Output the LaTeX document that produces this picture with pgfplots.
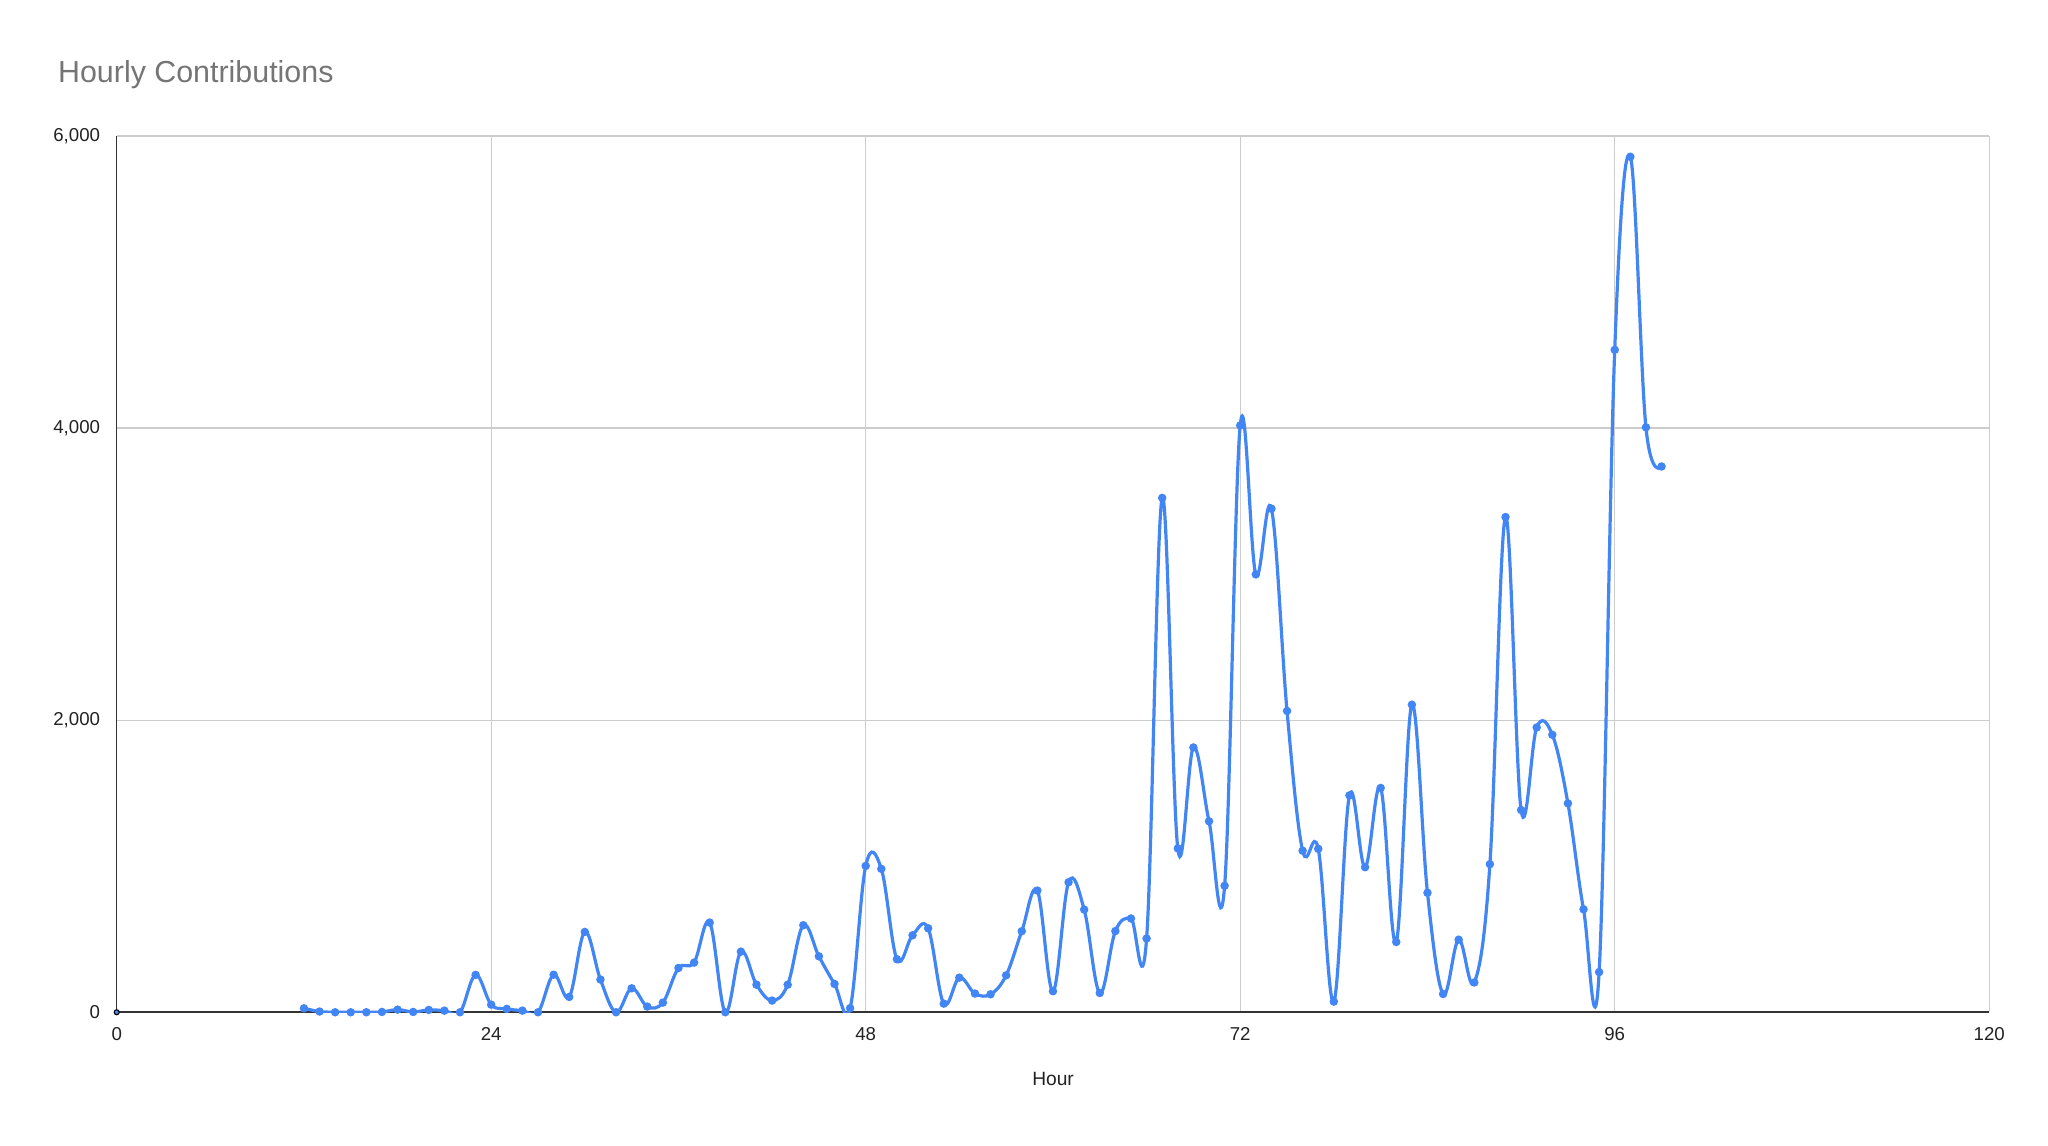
\documentclass[border=0pt]{standalone}
\usepackage{fontspec}
\setmainfont{Liberation Sans}
\usepackage{pgfplots}
\usepackage{pgfplotstable}
\pgfplotsset{compat=1.18}
\definecolor{gblue}{HTML}{4285F4}
\definecolor{gridgray}{HTML}{CCCCCC}
\definecolor{axisgray}{HTML}{333333}
\definecolor{labelcol}{HTML}{222222}
\definecolor{titlecol}{HTML}{757575}
\pgfplotstableread{
h v
12 27
13 5
14 0
15 0
16 0
17 2
18 18
19 2
20 16
21 11
22 0
23 256
24 52
25 23
26 11
27 0
28 257
29 105
30 550
31 224
32 0
33 164
34 39
35 66
36 303
37 340
38 614
39 0
40 415
41 189
42 80
43 189
44 596
45 383
46 194
47 28
48 1002
49 982
50 363
51 527
52 575
53 59
54 237
55 128
56 123
57 253
58 555
59 833
60 144
61 890
62 703
63 132
64 556
65 642
66 505
67 3522
68 1122
69 1813
70 1308
71 866
72 4018
73 2998
74 3448
75 2063
76 1106
77 1119
78 73
79 1485
80 993
81 1536
82 481
83 2106
84 818
85 125
86 497
87 204
88 1014
89 3391
90 1385
91 1950
92 1900
93 1430
94 705
95 275
96 4536
97 5858
98 4005
99 3737
}\hourly
\begin{document}
\begin{tikzpicture}
\path[use as bounding box] (0,0) rectangle (768pt,429.75pt);
\begin{axis}[
  at={(43.76pt,50.15pt)}, anchor=south west,
  scale only axis, width=702.2pt, height=328.6pt,
  xmin=0, xmax=120, ymin=0, ymax=6000,
  xtick={0,24,48,72,96,120}, ytick={0,2000,4000,6000},
  grid=major, grid style={draw=gridgray, line width=0.45pt},
  axis x line*=bottom, axis y line*=left,
  axis line style={draw=axisgray, line width=0.6pt, -},
  major tick length=0pt,
  tick label style={font=\fontsize{7}{8}\selectfont, text=labelcol},
  xticklabel style={yshift=-2pt},
  yticklabel style={xshift=-2.7pt},
  scaled y ticks=false,
  /pgf/number format/.cd, 1000 sep={,}, assume math mode=true,
]
\addplot[gblue, line width=1.2pt, smooth, tension=0.62, mark=*, mark size=0.95pt, mark options={draw=none, fill=gblue}] table[x=h, y=v] {\hourly};
\addplot[only marks, mark=*, mark size=0.95pt, mark options={draw=none, fill=gblue}] coordinates {(0,0)};
\end{axis}
\node[anchor=base west, font=\fontsize{11.4}{13}\selectfont, text=titlecol, inner sep=0pt] at (21.6pt,398.75pt) {Hourly Contributions};
\node[anchor=base, font=\fontsize{7.2}{8}\selectfont, text=labelcol, inner sep=0pt] at (394.9pt,22.5pt) {Hour};
\end{tikzpicture}
\end{document}
